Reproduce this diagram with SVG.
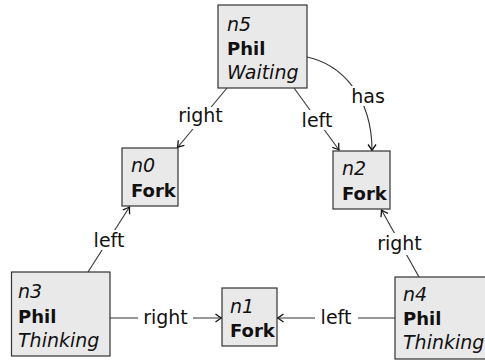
<svg xmlns="http://www.w3.org/2000/svg" width="485" height="362" viewBox="0 0 485 362">
<style>
  .box { fill: #e9e9e9; stroke: #333; stroke-width: 1.2; }
  text { font-family: "DejaVu Sans", sans-serif; font-size: 19px; fill: #111; }
  .id { font-style: italic; }
  .ty { font-weight: bold; font-size: 18px; }
  .st { font-style: italic; }
  .edge { fill: none; stroke: #333; stroke-width: 1.1; marker-end: url(#arr); }
  .lbg { fill: #fff; }
  .lbl { text-anchor: middle; }
</style>
<defs>
  <marker id="arr" markerUnits="userSpaceOnUse" markerWidth="12" markerHeight="12" viewBox="-8 -6 10 12" refX="0" refY="0" orient="auto">
    <path d="M-6,-4 Q-2,-1 0,0 Q-2,1 -6,4" fill="none" stroke="#111" stroke-width="1.3"/>
  </marker>
</defs>
<rect width="485" height="362" fill="#fff"/>
<g id="connectors">
  <path class="edge" d="M227,88 L177.5,147.5"/>
  <path class="edge" d="M294,88 L339,150"/>
  <path class="edge" d="M307,57 C340,64 372,95 372,150.5"/>
  <path class="edge" d="M88,272 L129.5,207"/>
  <path class="edge" d="M419,277 L381.5,210"/>
  <path class="edge" d="M110,318 L221.5,318"/>
  <path class="edge" d="M395,318 L277.5,318"/>
  <rect class="lbg" x="177" y="107" width="47" height="22"/>
  <text class="lbl" x="200.5" y="122">right</text>
  <rect class="lbg" x="300" y="110" width="34" height="20"/>
  <text class="lbl" x="317" y="127">left</text>
  <rect class="lbg" x="351" y="86" width="34" height="20"/>
  <text class="lbl" x="368" y="103">has</text>
  <rect class="lbg" x="93" y="230" width="32" height="20"/>
  <text class="lbl" x="109" y="247">left</text>
  <rect class="lbg" x="376" y="233" width="48" height="22"/>
  <text class="lbl" x="399.5" y="250">right</text>
  <rect class="lbg" x="138" y="307" width="55" height="20"/>
  <text class="lbl" x="165.5" y="324">right</text>
  <rect class="lbg" x="315" y="307" width="43" height="20"/>
  <text class="lbl" x="336" y="324">left</text>
</g>
<g id="n5">
  <rect class="box" x="218" y="5" width="89" height="83"/>
  <text class="id" x="227" y="31">n5</text>
  <text class="ty" x="227" y="55">Phil</text>
  <text class="st" x="227" y="79">Waiting</text>
</g>
<g id="n0">
  <rect class="box" x="122" y="148" width="56" height="58"/>
  <text class="id" x="131" y="172">n0</text>
  <text class="ty" x="131" y="197">Fork</text>
</g>
<g id="n2">
  <rect class="box" x="333" y="151" width="57" height="58"/>
  <text class="id" x="342" y="175">n2</text>
  <text class="ty" x="342" y="200">Fork</text>
</g>
<g id="n1">
  <rect class="box" x="222" y="288" width="55" height="58"/>
  <text class="id" x="230" y="313">n1</text>
  <text class="ty" x="230" y="337">Fork</text>
</g>
<g id="n3">
  <rect class="box" x="11.5" y="272" width="98.5" height="84"/>
  <text class="id" x="18" y="298">n3</text>
  <text class="ty" x="18" y="323">Phil</text>
  <text class="st" x="18" y="347">Thinking</text>
</g>
<g id="n4">
  <rect class="box" x="395" y="277" width="100" height="82"/>
  <text class="id" x="403" y="301">n4</text>
  <text class="ty" x="403" y="325">Phil</text>
  <text class="st" x="403" y="349">Thinking</text>
</g>
</svg>
